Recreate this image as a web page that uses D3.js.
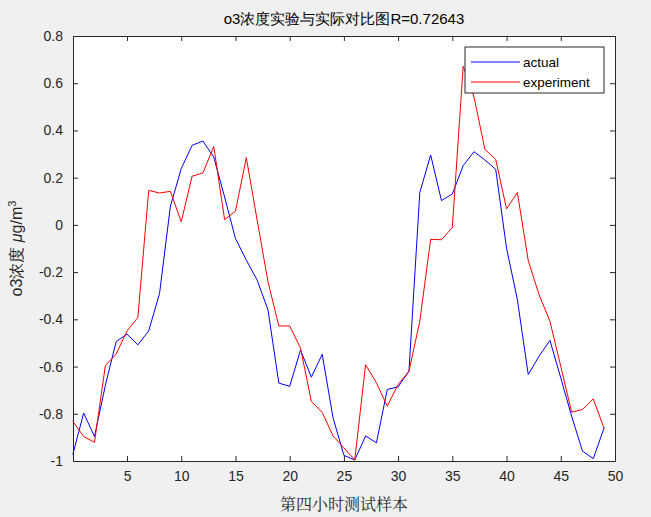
<!DOCTYPE html>
<html><head><meta charset="utf-8">
<script src="https://cdn.jsdelivr.net/npm/d3@7"></script>
<style>body{margin:0;background:#f0f0f0;}svg{display:block;font-family:"Liberation Sans",Arial,sans-serif;}</style>
</head><body><svg id="c" width="651" height="517"></svg>
<script>
const actual=[-0.973,-0.797,-0.896,-0.68,-0.494,-0.463,-0.508,-0.449,-0.29,0.079,0.238,0.337,0.355,0.287,0.118,-0.058,-0.149,-0.234,-0.36,-0.67,-0.684,-0.53,-0.645,-0.548,-0.817,-0.976,-0.996,-0.894,-0.923,-0.697,-0.686,-0.62,0.137,0.296,0.103,0.131,0.251,0.31,0.275,0.235,-0.099,-0.317,-0.634,-0.556,-0.489,-0.648,-0.81,-0.958,-0.99,-0.859];
const experiment=[-0.832,-0.896,-0.921,-0.596,-0.547,-0.449,-0.392,0.146,0.135,0.142,0.013,0.206,0.22,0.332,0.022,0.058,0.285,0.02,-0.241,-0.428,-0.428,-0.522,-0.748,-0.794,-0.894,-0.944,-0.996,-0.592,-0.669,-0.768,-0.676,-0.62,-0.408,-0.061,-0.063,-0.011,0.672,0.542,0.32,0.277,0.068,0.137,-0.151,-0.296,-0.408,-0.599,-0.793,-0.782,-0.737,-0.863];
const xTicks=[5,10,15,20,25,30,35,40,45,50];
const yTicks=[-1,-0.8,-0.6,-0.4,-0.2,0,0.2,0.4,0.6,0.8];
const svg=d3.select("#c");
const L=73,R=615,T=36,B=461;
const x=d3.scaleLinear().domain([0,50]).range([72.8,615]);
const y=d3.scaleLinear().domain([-1,0.8]).range([B,T]);
svg.append("rect").attr("x",L).attr("y",T).attr("width",R-L).attr("height",B-T).attr("fill","#fff");
const fmt=d=>String(+d.toFixed(1));
const ax=(g,a)=>{g.call(a);g.select(".domain").attr("stroke","#262626");g.selectAll("line").attr("stroke","#262626");g.selectAll("text").attr("fill","#262626").attr("font-size","14px");};
svg.append("g").attr("transform",`translate(0,${B})`).call(g=>ax(g,d3.axisBottom(x).tickValues(xTicks).tickSizeInner(-5).tickSizeOuter(0).tickPadding(10)));
svg.append("g").attr("transform",`translate(0,${T})`).call(g=>{ax(g,d3.axisTop(x).tickValues(xTicks).tickSizeInner(-5).tickSizeOuter(0));g.selectAll("text").remove();});
svg.append("g").attr("transform",`translate(${L},0)`).call(g=>ax(g,d3.axisLeft(y).tickValues(yTicks).tickFormat(fmt).tickSizeInner(-5).tickSizeOuter(0).tickPadding(10)));
svg.append("g").attr("transform",`translate(${R},0)`).call(g=>{ax(g,d3.axisRight(y).tickValues(yTicks).tickSizeInner(-5).tickSizeOuter(0));g.selectAll("text").remove();});
const line=d3.line().x((d,i)=>x(i)).y(d=>y(d));
svg.append("path").datum(actual).attr("d",line).attr("fill","none").attr("stroke","#0000ff").attr("stroke-width",1);
svg.append("path").datum(experiment).attr("d",line).attr("fill","none").attr("stroke","#ff0000").attr("stroke-width",1);
svg.append("text").attr("x",(L+R)/2).attr("y",24).attr("text-anchor","middle").attr("font-size","15px").attr("fill","#000").text("o3浓度实验与实际对比图R=0.72643");
svg.append("text").attr("x",(L+R)/2).attr("y",510).attr("text-anchor","middle").attr("font-size","16px").attr("fill","#262626").attr("font-family","'Noto Serif CJK SC','Noto Sans CJK SC',serif").text("第四小时测试样本");
const yl=svg.append("text").attr("transform",`translate(22,${(T+B)/2}) rotate(-90)`).attr("text-anchor","middle").attr("font-size","16px").attr("fill","#262626");
yl.append("tspan").text("o3浓度 ");
yl.append("tspan").attr("font-style","italic").text("μ");
yl.append("tspan").text("g/m");
yl.append("tspan").attr("dy",-6).attr("font-size","11px").text("3");
const lg=svg.append("g");
lg.append("rect").attr("x",465).attr("y",47).attr("width",139).attr("height",46).attr("fill","#fff").attr("stroke","#262626");
[["actual","#0000ff",62],["experiment","#ff0000",82]].forEach(([t,c,yy])=>{
 lg.append("line").attr("x1",471).attr("x2",520).attr("y1",yy).attr("y2",yy).attr("stroke",c);
 lg.append("text").attr("x",523).attr("y",yy+5).attr("font-size","13.5px").attr("fill","#000").text(t);
});
</script></body></html>
